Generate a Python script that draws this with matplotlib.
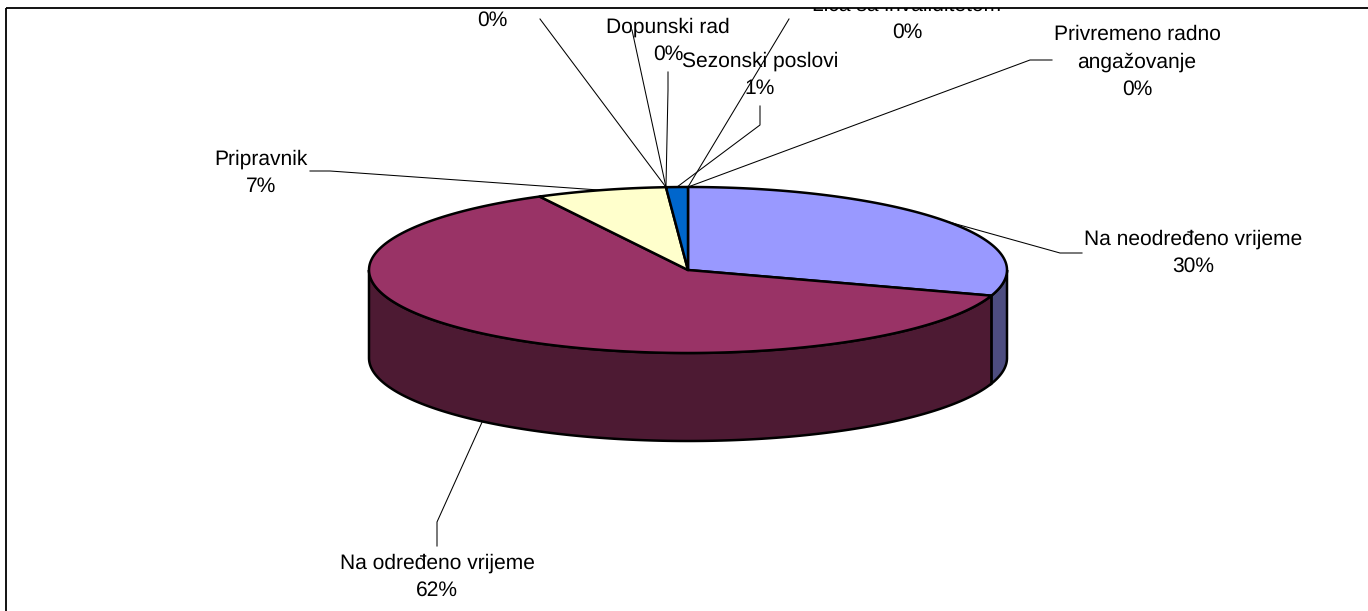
import numpy as np
import matplotlib
matplotlib.use("Agg")
from matplotlib import pyplot as plt

plt.rcParams['font.family'] = ['Liberation Sans', 'DejaVu Sans']
plt.rcParams['text.hinting'] = 'none'
plt.rcParams['text.hinting_factor'] = 1

# Slices, clockwise from the top
categories = ["Na neodređeno vrijeme", "Na određeno vrijeme", "Pripravnik", "", "",
              "Dopunski rad", "Sezonski poslovi", "Lica sa invaliditetom",
              "Privremeno radno\nangažovanje"]
values = [30.0, 62.3, 6.6, 0, 0, 0, 1.1, 0, 0]
top_colors = ["#9999FF", "#993366", "#FFFFCC", "#FFFFFF", "#FFFFFF", "#660066",
              "#0066CC", "#CCFFFF", "#CCCCFF"]
side_colors = ["#4D4D80", "#4D1A33", "#808066", "#808080", "#808080", "#330033",
               "#003366", "#668080", "#666680"]

# Layout in pixels of the picture, the fifth label lies outside the picture
cx, cy, rx, ry, depth = 688, 270, 319, 83, 88
label_pos = [(1193, 252), (437, 576), (261, 171.5), (492, 19), None, (668, 40),
             (760, 74), (907, 17.5), (1137, 61)]
leader_pts = [[(1060, 253), (1082, 253)],
              [(437, 522), (437, 546)],
              [(330, 171), (310, 171)],
              [(540, 19)],
              [(632, 30)],
              [(668, 90), (668, 72)],
              [(760, 125), (760, 106)],
              [(789, 19)],
              [(1030, 60), (1052, 60)]]


def rim(deg, drop=0):
    t = np.radians(deg)
    return cx + rx * np.sin(t), cy - ry * np.cos(t) + drop


fig = plt.figure(figsize=(13.68, 6.11), dpi=100)
ax = fig.add_axes([0, 0, 1, 1])
ax.set_xlim(0, 1368)
ax.set_ylim(611, 0)
ax.axis('off')

bounds = np.cumsum([0] + values) * 3.6

# Side walls first, only the front half of the disc shows
for i in range(len(values)):
    a, b = max(bounds[i], 90), min(bounds[i + 1], 270)
    if b <= a:
        continue
    t = np.linspace(a, b, 200)
    x, y = rim(t)
    x2, y2 = rim(t[::-1], depth)
    ax.fill(np.r_[x, x2], np.r_[y, y2], fc=side_colors[i], ec='black', lw=1.8, zorder=2)

# Top of the disc
for i in range(len(values)):
    if values[i] == 0:
        continue
    t = np.linspace(bounds[i], bounds[i + 1], 200)
    x, y = rim(t)
    ax.fill(np.r_[cx, x], np.r_[cy, y], fc=top_colors[i], ec='black', lw=1.8,
            joinstyle='round', zorder=3)

# Leader lines and labels, clipped by the frame like the original
frame = plt.Rectangle((5.5, 8), 1400, 640, fc='none', ec='black', lw=1.3, zorder=6)
ax.add_patch(frame)

for i in range(len(values)):
    mid = (bounds[i] + bounds[i + 1]) / 2
    start = rim(mid, depth if 90 < mid < 270 else 0)
    pts = [start] + leader_pts[i]
    ax.plot([p[0] for p in pts], [p[1] for p in pts], color='black', lw=0.75, zorder=4)
    if label_pos[i] is None:
        continue
    pct = "%.0f%%" % values[i]
    txt = categories[i] + "\n" + pct if categories[i] else pct
    lx, ly = label_pos[i]
    t = ax.text(lx, ly + 1, txt, ha='center', va='center', fontsize=15.4, color='black',
                linespacing=1.5, zorder=5)
    t.set_clip_path(frame)
    t.set_clip_on(True)

fig.savefig("out.png", dpi=100)
